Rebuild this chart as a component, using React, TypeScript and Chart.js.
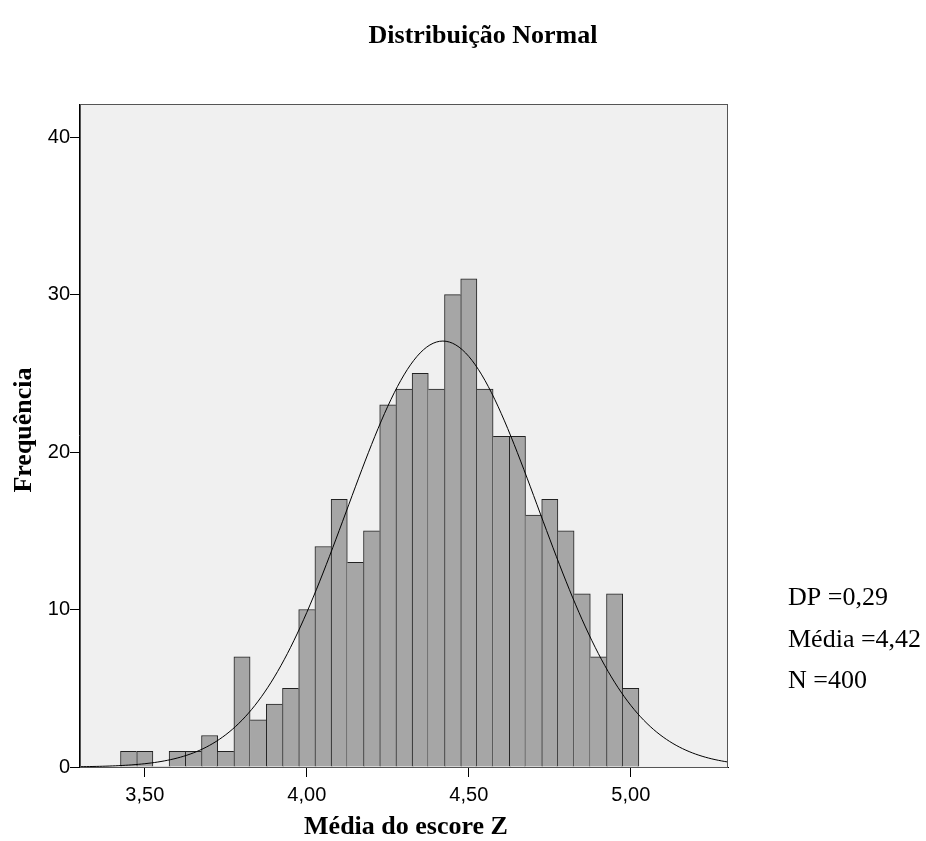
import React, { useEffect, useRef } from 'react';
import { Chart, registerables } from 'chart.js';

Chart.register(...registerables);

// ---- Data ----
const binCenters = [
  3.45, 3.5, 3.55, 3.6, 3.65, 3.7, 3.75, 3.8, 3.85, 3.9, 3.95,
  4.0, 4.05, 4.1, 4.15, 4.2, 4.25, 4.3, 4.35, 4.4, 4.45, 4.5,
  4.55, 4.6, 4.65, 4.7, 4.75, 4.8, 4.85, 4.9, 4.95, 5.0,
];
const frequencies = [
  1, 1, 0, 1, 1, 2, 1, 7, 3, 4, 5,
  10, 14, 17, 13, 15, 23, 24, 25, 24, 30, 31,
  24, 21, 21, 16, 17, 15, 11, 7, 11, 5,
];
const xTicks = [3.5, 4.0, 4.5, 5.0];
const yTicks = [0, 10, 20, 30, 40];

// Summary statistics shown in the chart
const meanValue = 4.42;
const sdValue = 0.295; // shown rounded as "0,29"
const nValue = 400;
const binWidth = 0.05;

const titleText = 'Distribuição Normal';
const xTitle = 'Média do escore Z';
const yTitle = 'Frequência';
const statsLines = ['DP =0,29', 'Média =4,42', 'N =400'];

const X_MIN = 3.3;
const X_MAX = 5.3;
const Y_MAX = 42.1;

// fitted normal curve (expected frequency per bin)
const curvePoints: { x: number; y: number }[] = [];
for (let i = 0; i <= 200; i++) {
  const x = X_MIN + (i * (X_MAX - X_MIN)) / 200;
  const z = (x - meanValue) / sdValue;
  const y = (nValue * binWidth * Math.exp(-0.5 * z * z)) / (sdValue * Math.sqrt(2 * Math.PI));
  curvePoints.push({ x, y });
}

const SERIF = '"Liberation Serif", "Times New Roman", serif';
const SANS = '"Liberation Sans", Arial, sans-serif';

const decor = {
  id: 'decor',
  beforeDraw(chart: any) {
    const { ctx, chartArea } = chart;
    ctx.save();
    ctx.fillStyle = '#f0f0f0';
    ctx.fillRect(chartArea.left, chartArea.top, chartArea.right - chartArea.left, chartArea.bottom - chartArea.top);
    ctx.restore();
  },
  afterDraw(chart: any) {
    const { ctx, chartArea } = chart;
    ctx.save();
    // frame
    ctx.strokeStyle = '#555';
    ctx.lineWidth = 1;
    ctx.strokeRect(chartArea.left + 0.5, chartArea.top + 0.5, chartArea.right - chartArea.left - 1, chartArea.bottom - chartArea.top);
    ctx.strokeStyle = '#000';
    ctx.beginPath();
    ctx.moveTo(chartArea.left - 0.5, chartArea.top);
    ctx.lineTo(chartArea.left - 0.5, chartArea.bottom);
    ctx.stroke();

    ctx.fillStyle = '#000';
    // title
    ctx.font = `bold 26px ${SERIF}`;
    ctx.textAlign = 'center';
    ctx.textBaseline = 'alphabetic';
    ctx.fillText(titleText, 483, 43);
    // x title
    ctx.fillText(xTitle, 406, 834);
    // y title
    ctx.save();
    ctx.translate(31, 430);
    ctx.rotate(-Math.PI / 2);
    ctx.fillText(yTitle, 0, 0);
    ctx.restore();
    // stats
    ctx.font = `26px ${SERIF}`;
    ctx.textAlign = 'left';
    statsLines.forEach((s, i) => ctx.fillText(s, 788, 605 + i * 41.5));
    ctx.restore();
  },
};

export default function App() {
  const ref = useRef<HTMLCanvasElement | null>(null);

  useEffect(() => {
    if (!ref.current) return;
    const chart = new Chart(ref.current, {
      type: 'bar',
      data: {
        datasets: [
          {
            type: 'line',
            data: curvePoints,
            borderColor: '#000',
            borderWidth: 1,
            pointRadius: 0,
            tension: 0,
            fill: false,
            order: 0,
          } as any,
          {
            type: 'bar',
            data: binCenters.map((x, i) => ({ x, y: frequencies[i] })),
            backgroundColor: '#a6a6a6',
            borderColor: '#222',
            borderSkipped: false,
            borderWidth: (c: any) => {
              const i = c.dataIndex;
              const v = frequencies[i];
              const prev = i > 0 ? frequencies[i - 1] : -1;
              const next = i < frequencies.length - 1 ? frequencies[i + 1] : -1;
              return { top: 1, bottom: 0, left: prev <= v ? 1 : 0, right: next < v ? 1 : 0 };
            },
            barPercentage: 1,
            categoryPercentage: 1,
            order: 1,
          } as any,
        ],
      },
      options: {
        responsive: false,
        animation: false,
        devicePixelRatio: 1,
        layout: { padding: { left: 0, top: 104, right: 198, bottom: 0 } },
        plugins: {
          legend: { display: false },
          tooltip: { enabled: false },
          title: { display: false },
        },
        scales: {
          x: {
            type: 'linear',
            min: X_MIN,
            max: X_MAX,
            offset: false,
            afterFit: (s: any) => {
              s.height = 74;
            },
            afterBuildTicks: (s: any) => {
              s.ticks = xTicks.map((v) => ({ value: v }));
            },
            ticks: {
              color: '#000',
              font: { family: SANS, size: 20 },
              padding: 6,
              maxRotation: 0,
              autoSkip: false,
              callback: (v: any) => Number(v).toFixed(2).replace('.', ','),
            },
            grid: { display: true, offset: false, drawOnChartArea: false, drawTicks: true, tickLength: 10, color: '#000' },
            border: { display: true, color: '#000', width: 1 },
          },
          y: {
            type: 'linear',
            min: 0,
            max: Y_MAX,
            afterFit: (s: any) => {
              s.width = 80;
            },
            afterBuildTicks: (s: any) => {
              s.ticks = yTicks.map((v) => ({ value: v }));
            },
            ticks: {
              color: '#000',
              font: { family: SANS, size: 20 },
              padding: 0,
              autoSkip: false,
              callback: (v: any) => String(v),
            },
            grid: { display: true, drawOnChartArea: false, drawTicks: true, tickLength: 10, color: '#000' },
            border: { display: true, color: '#000', width: 1 },
          },
        },
      },
      plugins: [decor],
    });
    return () => chart.destroy();
  }, []);

  return (
    <div style={{ position: 'absolute', left: 0, top: 0, width: 926, height: 841, background: '#fff' }}>
      <canvas ref={ref} width={926} height={841} style={{ width: 926, height: 841, display: 'block' }} />
    </div>
  );
}
